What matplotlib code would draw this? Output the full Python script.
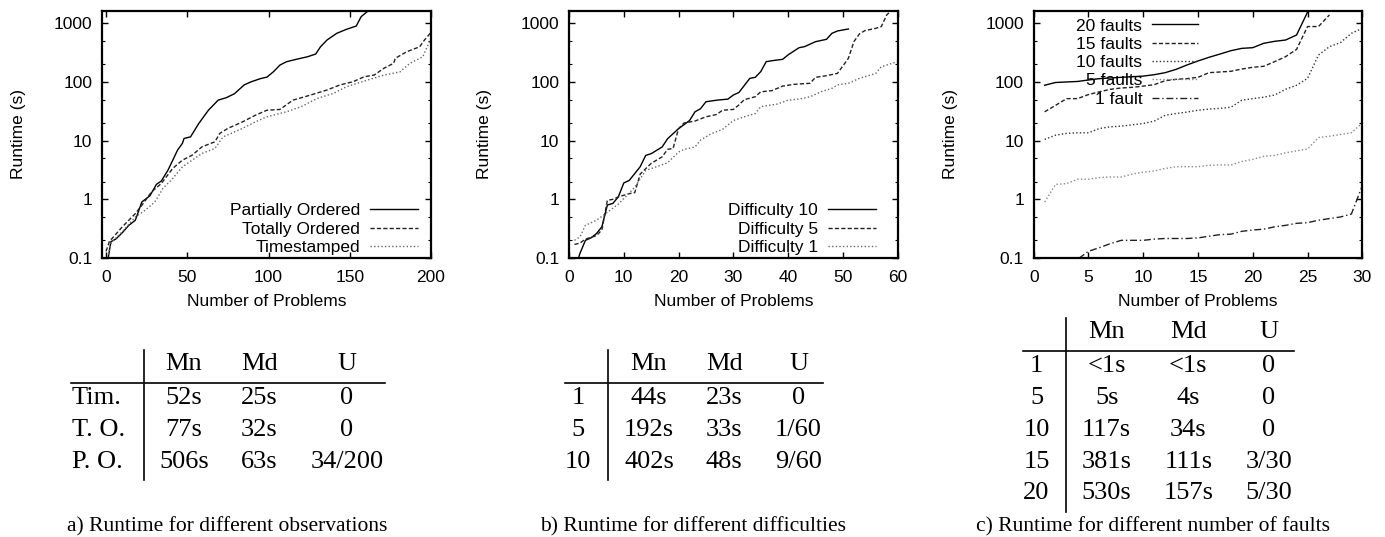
import matplotlib
matplotlib.use("Agg")
import matplotlib.pyplot as plt
from matplotlib.ticker import LogLocator, NullFormatter
from matplotlib.lines import Line2D

plt.rcParams['font.family'] = ['Liberation Sans', 'DejaVu Sans']

W, H = 1385, 537

# ---------------- data: panel a ----------------
po_n = [1, 2, 3, 6, 10, 14, 18, 22, 27, 31, 34, 38, 41, 44, 47, 48, 52, 57, 63, 69, 74,
        79, 85, 89, 95, 99, 103, 107, 111, 117, 124, 129, 132, 136, 142, 148, 154, 157, 161, 163]
po_v = [0.09, 0.13, 0.19, 0.21, 0.27, 0.36, 0.44, 0.9, 1.15, 1.8, 2.05, 3.1, 4.6, 6.9, 9.0,
        10.9, 11.6, 19.5, 33, 49, 54, 63, 89, 100, 114, 121, 149, 194, 221, 243, 269, 299,
        398, 519, 675, 790, 899, 1297, 1600, 1800]
to_n = [0, 2, 10, 18, 22, 28, 34, 41, 47, 53, 59, 67, 70, 75, 84, 92, 99, 107, 115, 126,
        136, 144, 152, 159, 165, 171, 177, 178, 185, 193, 196, 200]
to_v = [0.13, 0.19, 0.34, 0.57, 0.79, 1.34, 1.86, 3.36, 4.65, 5.66, 7.84, 9.55, 13.3, 16.2,
        20.9, 27.2, 33, 34, 49, 60, 73, 89, 101, 123, 131, 171, 208, 253, 327, 398, 519, 700]
ts_n = [1, 3, 10, 18, 24, 30, 35, 41, 47, 53, 59, 67, 72, 77, 84, 92, 99, 111, 120, 130,
        140, 148, 161, 171, 181, 187, 195, 200]
ts_v = [0.1, 0.18, 0.28, 0.5, 0.65, 0.9, 1.53, 2.26, 3.57, 4.65, 6.05, 7.37, 11.6, 13.3,
        16.2, 20.9, 25.5, 31, 37.8, 52.5, 64, 83, 108, 131, 149, 208, 269, 560]

# ---------------- data: panel b ----------------
d10_n = [1, 2, 3, 4, 5, 6, 7, 8, 9, 10, 11, 13, 14, 15, 17, 18, 20, 22, 23, 24, 25, 27, 29,
         30, 31, 33, 34, 35, 36, 37, 39, 40, 42, 43, 45, 47, 48, 49, 51]
d10_v = [0.06, 0.12, 0.2, 0.22, 0.26, 0.34, 0.8, 0.85, 1.1, 1.9, 2.1, 3.6, 5.6, 6.0, 7.8,
         10.8, 16, 22, 31, 35, 46, 49, 51, 60, 66, 115, 120, 150, 222, 230, 243, 290, 384,
         400, 486, 533, 675, 740, 800]
d5_n = [1, 2, 3, 5, 6, 7, 8, 9, 11, 12, 13, 15, 17, 18, 19, 20, 21, 23, 25, 27, 28, 30, 31,
        32, 34, 35, 37, 39, 41, 44, 45, 47, 49, 51, 52, 53, 54, 56, 57, 58, 59]
d5_v = [0.17, 0.18, 0.21, 0.24, 0.3, 0.96, 1.0, 1.1, 1.25, 1.3, 2.7, 4.1, 5.3, 7.1, 7.4, 16,
        20, 21.6, 25.5, 28, 33, 34, 40.5, 50, 56, 68, 71, 85, 91, 95, 120, 128, 140, 253, 486,
        657, 750, 820, 877, 1390, 1700]
d1_n = [1, 2, 3, 5, 7, 9, 10, 12, 14, 16, 18, 20, 21, 23, 24, 26, 28, 30, 32, 34, 35, 38, 40,
        42, 44, 46, 48, 49, 51, 53, 56, 57, 59, 60]
d1_v = [0.2, 0.23, 0.36, 0.44, 0.6, 0.83, 1.03, 1.6, 3.1, 3.6, 4.2, 6.4, 7.1, 7.8, 10.2, 13.2,
        15.5, 22, 25.5, 29, 38, 42, 49, 51, 56, 68, 78, 89, 95, 115, 140, 182, 208, 222]

# ---------------- data: panel c ----------------
f20_v = [88, 98, 100, 102, 108, 114, 117, 120, 123, 126, 133, 144, 164, 195, 228, 263, 299,
         341, 374, 384, 456, 493, 519, 632, 1550]
f15_v = [31, 40, 52, 52, 61, 68, 75, 79, 81, 85, 90, 105, 111, 114, 120, 144, 148, 152, 166,
         178, 185, 222, 270, 360, 880, 880, 1390]
f10_v = [10.5, 12.4, 13.3, 13.6, 13.6, 16.1, 17.2, 17.7, 18.6, 19.6, 21.5, 27, 29, 30.7, 33,
         34.5, 35.5, 37, 49, 52, 55, 60, 75, 88, 115, 288, 400, 468, 675, 820]
f5_v = [0.9, 1.8, 1.85, 2.2, 2.2, 2.35, 2.4, 2.4, 2.7, 2.9, 3.05, 3.35, 3.6, 3.6, 3.6, 3.8,
        3.85, 3.85, 4.4, 4.8, 5.4, 5.6, 6.2, 6.7, 7.2, 11.3, 11.9, 12.7, 13.6, 20]
f1_v = [0.04, 0.05, 0.06, 0.095, 0.13, 0.15, 0.176, 0.2, 0.2, 0.2, 0.21, 0.215, 0.215, 0.215,
        0.22, 0.235, 0.25, 0.255, 0.285, 0.3, 0.31, 0.34, 0.36, 0.39, 0.4, 0.44, 0.47, 0.5,
        0.56, 1.7]

y_ticks = [0.1, 1, 10, 100, 1000]
y_tick_labels = ["0.1", "1", "10", "100", "1000"]
xticks_a = [0, 50, 100, 150, 200]
xticks_b = [0, 10, 20, 30, 40, 50, 60]
xticks_c = [0, 5, 10, 15, 20, 25, 30]

# ---------------- tables ----------------
tab_a_rows = ["Tim.", "T. O.", "P. O."]
tab_a_mn = ["52s", "77s", "506s"]
tab_a_md = ["25s", "32s", "63s"]
tab_a_u = ["0", "0", "34/200"]
tab_b_rows = ["1", "5", "10"]
tab_b_mn = ["44s", "192s", "402s"]
tab_b_md = ["23s", "33s", "48s"]
tab_b_u = ["0", "1/60", "9/60"]
tab_c_rows = ["1", "5", "10", "15", "20"]
tab_c_mn = ["<1s", "5s", "117s", "381s", "530s"]
tab_c_md = ["<1s", "4s", "34s", "111s", "157s"]
tab_c_u = ["0", "0", "0", "3/30", "5/30"]
header = ["Mn", "Md", "U"]
captions = ["a) Runtime for different observations",
            "b) Runtime for different difficulties",
            "c) Runtime for different number of faults"]

SOLID = '-'
DASHED = (0, (3, 1.6))
DOTTED = (0, (1, 1.6))
DASHDOT = (0, (5, 2, 1, 2))

fig = plt.figure(figsize=(W / 100, H / 100), dpi=100)

TFS = 12.5


def px_rect(l, t, r, b):
    return [l / W, 1 - b / H, (r - l) / W, (b - t) / H]


def setup(ax, xlim, xticks):
    ax.set_yscale('log')
    ax.set_ylim(0.1, 1620)
    ax.set_xlim(*xlim)
    ax.set_xticks(xticks)
    ax.set_xticklabels([str(t) for t in xticks])
    ax.set_yticks(y_ticks)
    ax.set_yticklabels(y_tick_labels)
    ax.yaxis.set_minor_locator(LogLocator(base=10, subs=(2, 5)))
    ax.yaxis.set_minor_formatter(NullFormatter())
    ax.tick_params(which='both', direction='in', top=True, right=True, labelsize=TFS)
    ax.tick_params(which='major', length=4, width=1)
    ax.tick_params(which='minor', length=2.2, width=0.8)
    ax.tick_params(axis='x', pad=8.5)
    ax.tick_params(axis='y', pad=7)
    for s in ax.spines.values():
        s.set_linewidth(1.6)


def legend(ax, loc, anchor, hl=2.76):
    ax.legend(loc=loc, bbox_to_anchor=anchor, markerfirst=False, frameon=False,
              handlelength=hl, handletextpad=0.57, labelspacing=0.18, borderpad=0,
              borderaxespad=0, fontsize=TFS)


# panel a
axa = fig.add_axes(px_rect(102, 11, 431, 258))
setup(axa, (-2.5, 200), xticks_a)
axa.plot(po_n, po_v, color='black', lw=1.0, ls=SOLID, label='Partially Ordered')
axa.plot(to_n, to_v, color='#222222', lw=1.0, ls=DASHED, label='Totally Ordered')
axa.plot(ts_n, ts_v, color='#666666', lw=1.0, ls=DOTTED, label='Timestamped')
legend(axa, 'lower right', (0.9595, 0.012))

# panel b
axb = fig.add_axes(px_rect(569, 11, 897.7, 258))
setup(axb, (0, 60), xticks_b)
axb.plot(d10_n, d10_v, color='black', lw=1.0, ls=SOLID, label='Difficulty 10')
axb.plot(d5_n, d5_v, color='#222222', lw=1.0, ls=DASHED, label='Difficulty 5')
axb.plot(d1_n, d1_v, color='#666666', lw=1.0, ls=DOTTED, label='Difficulty 1')
legend(axb, 'lower right', (0.934, 0.012))

# panel c
axc = fig.add_axes(px_rect(1033.7, 11, 1362.3, 258))
setup(axc, (0, 30), xticks_c)
axc.plot(list(range(1, len(f20_v) + 1)), f20_v, color='black', lw=1.0, ls=SOLID, label='20 faults')
axc.plot(list(range(1, len(f15_v) + 1)), f15_v, color='#222222', lw=1.0, ls=DASHED, label='15 faults')
axc.plot(list(range(1, len(f10_v) + 1)), f10_v, color='#333333', lw=1.0, ls=DOTTED, label='10 faults')
axc.plot(list(range(1, len(f5_v) + 1)), f5_v, color='#888888', lw=1.0, ls=DOTTED, label='5 faults')
axc.plot(list(range(1, len(f1_v) + 1)), f1_v, color='#222222', lw=1.0, ls=DASHDOT, label='1 fault')
legend(axc, 'upper right', (0.5, 0.970), hl=2.64)

# axis titles
for cx in (266.5, 733.3, 1198):
    fig.text(cx / W, 1 - 302 / H, "Number of Problems", ha='center', va='center', fontsize=TFS)
for lx in (18.3, 485, 950):
    fig.text(lx / W, 1 - 134 / H, "Runtime (s)", ha='center', va='center', rotation=90,
             fontsize=TFS)

# ---------------- tables ----------------
SERIF = ['Liberation Serif', 'DejaVu Serif']
TAB_FS = 19


def ftext(x, y, s, ha='center', fs=TAB_FS):
    fig.text(x / W, 1 - y / H, s, ha=ha, va='center', fontsize=fs, family=SERIF)


def fline(xs, ys, lw=1.2):
    fig.add_artist(Line2D([x / W for x in xs], [1 - y / H for y in ys], color='black', lw=lw,
                          transform=fig.transFigure))


def table(rows, mn, md, u, row_x, row_ha, col_x, head_y, row_y, vline_x, vy, hline_x, hline_y):
    for cx, h in zip(col_x, header):
        ftext(cx, head_y, h)
    for i, ry in enumerate(row_y):
        ftext(row_x, ry, rows[i], ha=row_ha)
        ftext(col_x[0], ry, mn[i])
        ftext(col_x[1], ry, md[i])
        ftext(col_x[2], ry, u[i])
    fline([vline_x, vline_x], vy)
    fline(hline_x, [hline_y, hline_y])


table(tab_a_rows, tab_a_mn, tab_a_md, tab_a_u, 71.5, 'left', (184, 259.5, 347), 364,
      (398, 430, 461.5), 144, (350, 479.5), (71, 385), 382.7)
table(tab_b_rows, tab_b_mn, tab_b_md, tab_b_u, 578, 'center', (649, 724.3, 798.5), 364,
      (398, 430, 461.5), 607.7, (350, 479.5), (565, 822.7), 382.7)
table(tab_c_rows, tab_c_mn, tab_c_md, tab_c_u, 1036.5, 'center', (1106.7, 1188.3, 1269), 332.5,
      (366.5, 398, 429.5, 461.5, 493), 1065.7, (318.3, 511.7), (1022.7, 1294), 351)

for cx, cap in zip((227.5, 693, 1153), captions):
    ftext(cx, 526.5, cap, fs=15.5)

fig.savefig("out.png", dpi=100)
